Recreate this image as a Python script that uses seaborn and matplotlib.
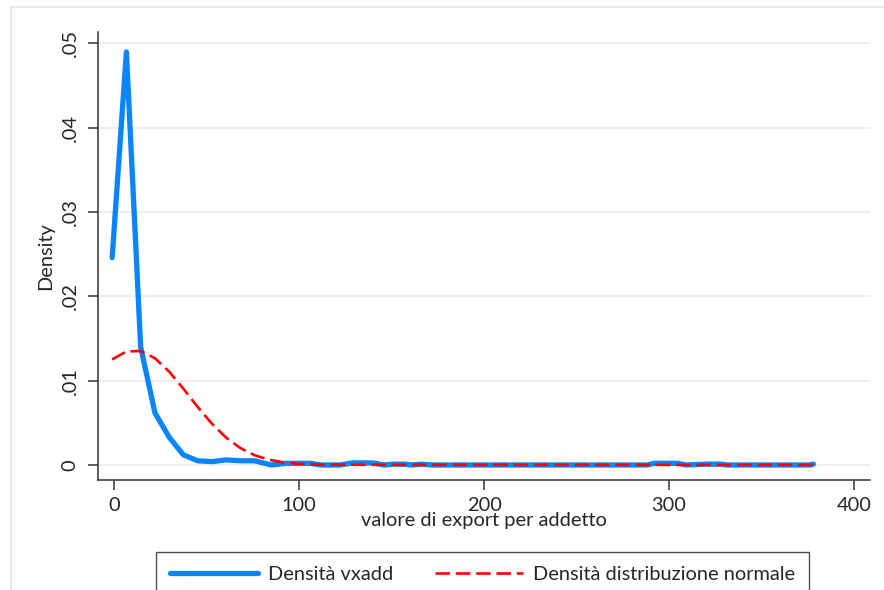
import numpy as np
import pandas as pd
import seaborn as sns
import matplotlib.pyplot as plt
from matplotlib.patches import Rectangle
from matplotlib.lines import Line2D

# Kernel density of vxadd
vx_x = [-1, 6.7, 14.4, 22.1, 29.8, 37.5, 45.2, 52.9, 60.6, 68.3, 76.0, 85.0,
        93, 106, 112, 122, 129, 140, 146, 151, 157, 161, 166, 172,
        288, 292, 305, 309, 320, 328, 331, 376, 378]
vx_y = [0.0246, 0.0490, 0.0140, 0.0062, 0.0033, 0.0012, 0.0005, 0.0004, 0.0006, 0.0005, 0.0005, 0.0000,
        0.0002, 0.0002, 0.0000, 0.0000, 0.00025, 0.00025, 0.0000, 0.0001, 0.0001, 0.0000, 0.0001, 0.0000,
        0.0000, 0.0002, 0.0002, 0.0000, 0.0001, 0.0001, 0.0000, 0.0000, 0.0001]

# Normal density overlay
norm_x = [-1, 6.7, 14.4, 22.1, 29.8, 37.5, 45.2, 52.9, 60.6, 68.3, 76.0, 83.7,
          91.4, 99.1, 106.8, 114.5, 378]
norm_y = [0.01252, 0.01347, 0.01352, 0.01267, 0.01108, 0.00905, 0.00689, 0.00490,
          0.00325, 0.00201, 0.00116, 0.00063, 0.00032, 0.00015, 0.000065, 0.00003, 0.0]

xticks = [0, 100, 200, 300, 400]
yticks = [0, 0.01, 0.02, 0.03, 0.04, 0.05]
ytick_labels = ['0', '.01', '.02', '.03', '.04', '.05']
labels = ['Densità vxadd', 'Densità distribuzione normale']

sns.set_style('white')
plt.rcParams['font.family'] = ['Lato', 'DejaVu Sans']

blue = '#0a84ff'
red = '#ff0000'
fs = 14.4

fig = plt.figure(figsize=(8.84, 5.90), dpi=100)
ax = fig.add_axes([98 / 884, 1 - 480 / 590, (870 - 98) / 884, (480 - 32) / 590])

sns.lineplot(x=vx_x, y=vx_y, ax=ax, color=blue, lw=3.8, sort=False,
             solid_capstyle='round', solid_joinstyle='round')
sns.lineplot(x=norm_x, y=norm_y, ax=ax, color=red, lw=1.9, sort=False,
             dashes=False, linestyle=(0, (5.5, 2.2)))

ax.set_xlim(-8.65, 408.6)
ax.set_ylim(-0.00178, 0.05136)
ax.set_xticks(xticks)
ax.set_xticklabels([str(t) for t in xticks])
ax.set_yticks(yticks)
ax.set_yticklabels(ytick_labels, rotation=90, va='center')
for yv in yticks:
    ax.axhline(yv, color='#e9f0f2', lw=1.4, zorder=0)

for s in ['top', 'right']:
    ax.spines[s].set_visible(False)
for s in ['left', 'bottom']:
    ax.spines[s].set_color('#333333')
    ax.spines[s].set_linewidth(1.1)
ax.tick_params(axis='both', which='major', direction='out', length=7, width=1.1,
               color='#333333', labelsize=fs, pad=5, left=True, bottom=True)
ax.tick_params(axis='y', pad=7)

ax.set_xlabel('valore di export per addetto', fontsize=fs, labelpad=-1)
ax.set_ylabel('Density', fontsize=fs, labelpad=5)

handles = [Line2D([], [], color=blue, lw=3.8, solid_capstyle='round'),
           Line2D([], [], color=red, lw=1.9, linestyle=(0, (5.5, 2.2)))]
leg = fig.legend(handles, labels, loc='upper center', bbox_to_anchor=(482.5 / 884, 1 - 552 / 590),
                 ncol=2, fontsize=fs, frameon=True, fancybox=False, handlelength=4.4,
                 handletextpad=0.5, columnspacing=2.05, borderpad=0.7, borderaxespad=0)
leg.get_frame().set_edgecolor('#222222')
leg.get_frame().set_linewidth(1.0)

# light outer graph frame (cut at right/bottom as in the reference)
fig.patches.append(Rectangle((11 / 884, -0.05), 1.1, 1 - 7 / 590 + 0.05, transform=fig.transFigure,
                             fill=False, edgecolor='#dde9ec', lw=1.2))

fig.savefig('out.png', dpi=100)
